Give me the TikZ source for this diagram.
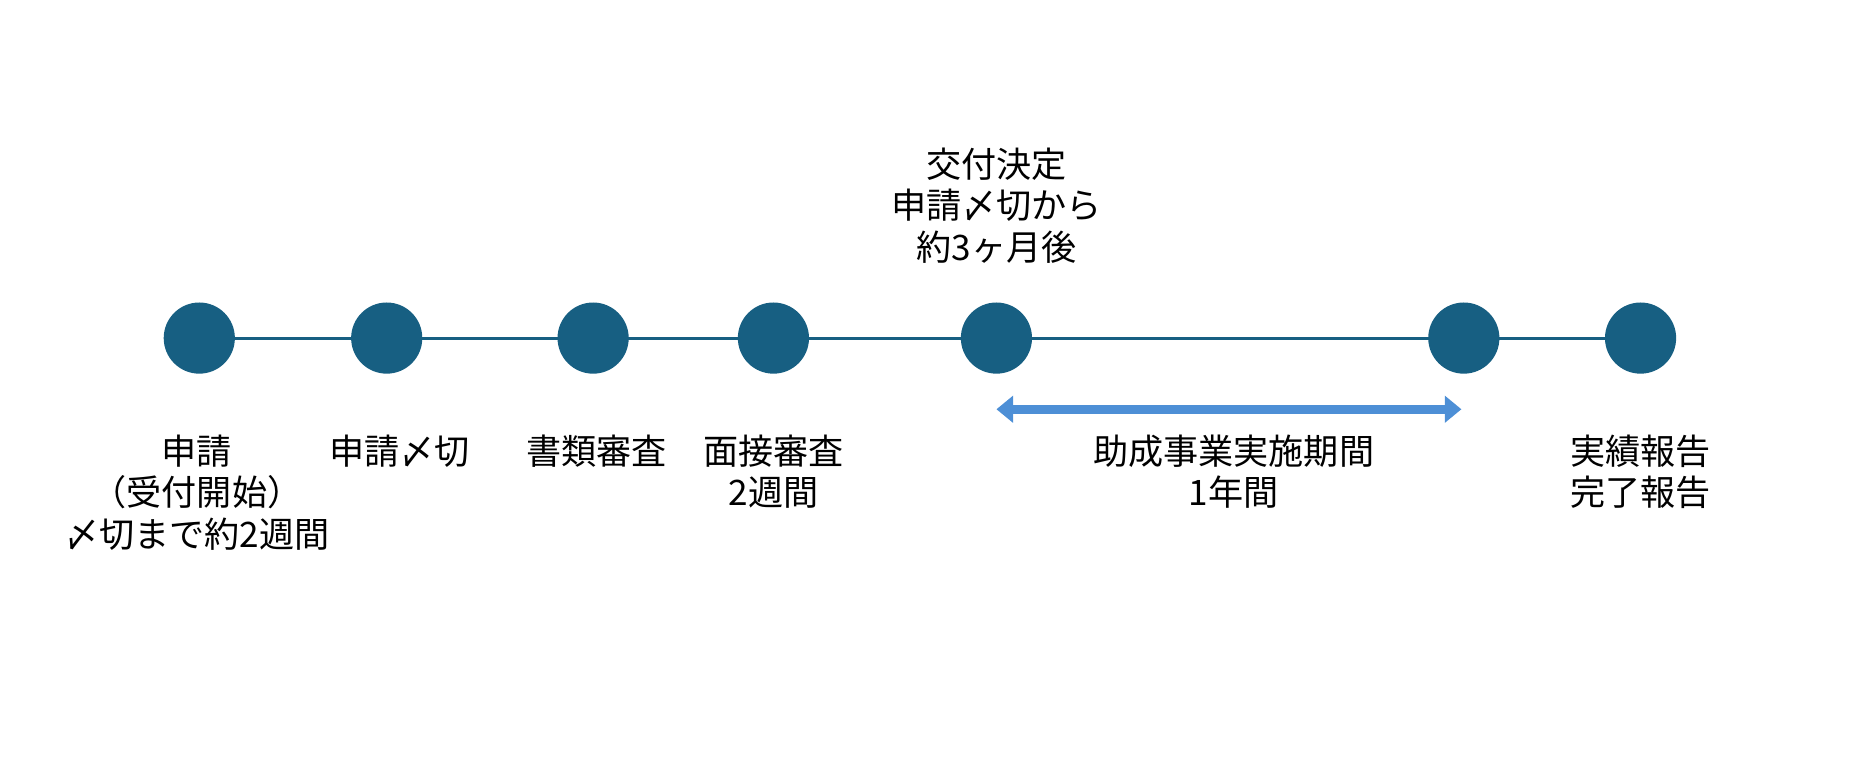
\documentclass[tikz,border=0pt]{standalone}
\usepackage{fontspec}
\setmainfont{Noto Sans CJK JP}
\usetikzlibrary{arrows.meta}
\definecolor{dot}{HTML}{175F82}
\definecolor{arr}{HTML}{4D8FD6}
\begin{document}
\begin{tikzpicture}[x=0.5pt,y=-0.5pt,
  dotnode/.style={circle,fill=dot,minimum size=30pt,inner sep=0},
  lbl/.style={align=center,font=\fontsize{14.8pt}{17.5pt}\selectfont,anchor=north,inner sep=0}]
\useasboundingbox (0,0) rectangle (1568,638);
\foreach \n/\x in {a/168,b/326,c/500,d/652,e/840,f/1234,g/1383} \coordinate (p\n) at (\x,285);
\draw[dot,line width=1.3pt] (pa) -- (pg);
\foreach \n in {a,b,c,d,e,f,g} \node[dotnode] (\n) at (p\n) {};
\coordinate (s) at (840,345); \coordinate (t) at (1232,345);
\draw[arr,line width=4pt,{Triangle[length=7pt,width=11pt]}-{Triangle[length=7pt,width=11pt]}] (s) -- (t);
\node[lbl] (la) at (166,366) {申請\\（受付開始）\\〆切まで約2週間};
\node[lbl] (lb) at (337,366) {申請〆切};
\node[lbl] (lc) at (503,366) {書類審査};
\node[lbl] (ld) at (652,366) {面接審査\\2週間};
\node[lbl] (lf) at (1040,366) {助成事業実施期間\\1年間};
\node[lbl] (lg) at (1383,366) {実績報告\\完了報告};
\node[lbl] (le) at (840,124) {交付決定\\申請〆切から\\約3ヶ月後};
\end{tikzpicture}
\end{document}
